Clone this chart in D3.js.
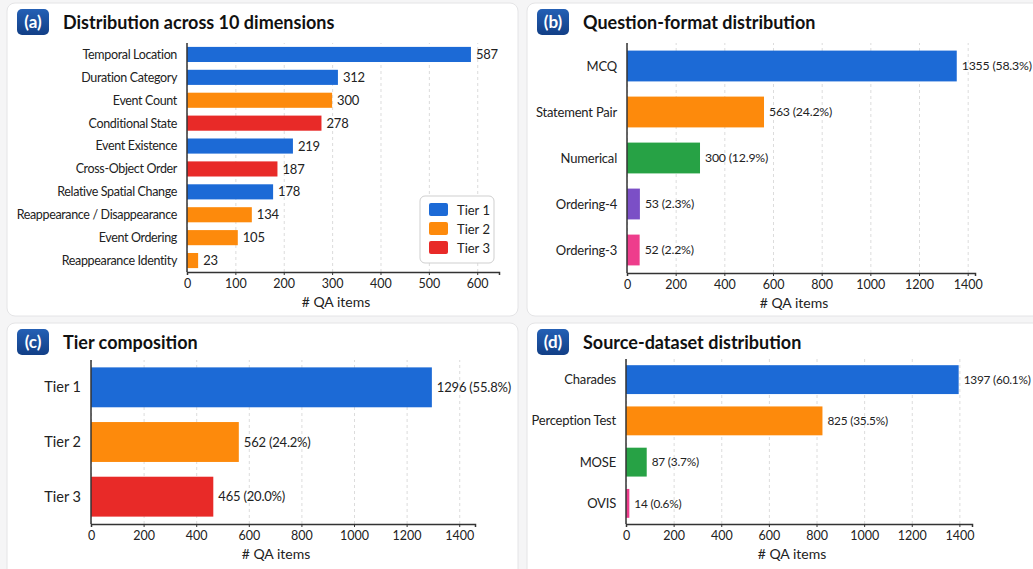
<!DOCTYPE html>
<html>
<head>
<meta charset="utf-8">
<script src="https://cdn.jsdelivr.net/npm/d3@7"></script>
<style>
  body { margin: 0; background: #f5f5f6; font-family: Lato, "Open Sans", sans-serif; }
  .grid line { stroke: #dcdcdc; stroke-dasharray: 3,3; }
  .grid path { display: none; }
  .lbl { fill: #222; }
  .tick text { font-size: 12.5px; fill: #222; font-family: Lato, sans-serif; }
</style>
</head>
<body>
<svg id="chart" width="1033" height="569"></svg>
<script>
// ---- data ----
var dimLabels = ["Temporal Location", "Duration Category", "Event Count", "Conditional State",
  "Event Existence", "Cross-Object Order", "Relative Spatial Change",
  "Reappearance / Disappearance", "Event Ordering", "Reappearance Identity"];
var dimValues = [587, 312, 300, 278, 219, 187, 178, 134, 105, 23];
var dimTiers = [1, 1, 2, 3, 1, 3, 1, 2, 2, 2];

var formatLabels = ["MCQ", "Statement Pair", "Numerical", "Ordering-4", "Ordering-3"];
var formatValues = [1355, 563, 300, 53, 52];
var formatPct = ["58.3%", "24.2%", "12.9%", "2.3%", "2.2%"];

var tierLabels = ["Tier 1", "Tier 2", "Tier 3"];
var tierValues = [1296, 562, 465];
var tierPct = ["55.8%", "24.2%", "20.0%"];

var sourceLabels = ["Charades", "Perception Test", "MOSE", "OVIS"];
var sourceValues = [1397, 825, 87, 14];
var sourcePct = ["60.1%", "35.5%", "3.7%", "0.6%"];

var blue = "#1c6ad6", orange = "#fd8a0c", red = "#e82a28", green = "#27a245",
    purple = "#7b4fc6", pink = "#ee3d8c";
var tierColour = {1: blue, 2: orange, 3: red};

var svg = d3.select("#chart");

// cards
var cards = [
  {x: 7, y: 3, w: 511, h: 313, tag: "(a)", title: "Distribution across 10 dimensions"},
  {x: 527, y: 3, w: 520, h: 313, tag: "(b)", title: "Question-format distribution"},
  {x: 7, y: 323, w: 511, h: 260, tag: "(c)", title: "Tier composition"},
  {x: 527, y: 323, w: 520, h: 260, tag: "(d)", title: "Source-dataset distribution"}
];

var grad = svg.append("defs").append("linearGradient")
    .attr("id", "badge").attr("x1", 0).attr("y1", 0).attr("x2", 0).attr("y2", 1);
grad.append("stop").attr("offset", "0%").attr("stop-color", "#2460b5");
grad.append("stop").attr("offset", "100%").attr("stop-color", "#123f86");

cards.forEach(function(c) {
  svg.append("rect")
    .attr("x", c.x).attr("y", c.y).attr("width", c.w).attr("height", c.h)
    .attr("rx", 8).attr("fill", "#fff").attr("stroke", "#e4e4e6");
  svg.append("rect")
    .attr("x", c.x + 10).attr("y", c.y + 6).attr("width", 32).attr("height", 26)
    .attr("rx", 5).attr("fill", "url(#badge)");
  svg.append("text")
    .attr("x", c.x + 26).attr("y", c.y + 25)
    .attr("text-anchor", "middle")
    .attr("fill", "#fff").attr("font-weight", "bold").attr("font-size", 17)
    .text(c.tag);
  svg.append("text")
    .attr("x", c.x + 56).attr("y", c.y + 26)
    .attr("fill", "#111").attr("font-weight", "bold").attr("font-size", 18)
    .text(c.title);
});

function drawPanel(p) {
  var x = d3.scaleLinear().domain([0, p.xMax]).range([p.left, p.right]);
  var y = d3.scaleBand().domain(p.labels).range([p.top, p.bottom])
      .paddingInner(p.pad).paddingOuter(p.pad / 2);
  var g = svg.append("g");

  g.append("g")
    .attr("class", "grid")
    .attr("transform", "translate(0," + p.bottom + ")")
    .call(d3.axisBottom(x).tickValues(p.ticks).tickSize(-(p.bottom - p.top)).tickFormat(""));

  g.selectAll(".bar")
    .data(p.values)
    .enter().append("rect")
      .attr("x", x(0))
      .attr("y", function(d, i) { return y(p.labels[i]); })
      .attr("width", function(d) { return x(d) - x(0); })
      .attr("height", y.bandwidth())
      .attr("fill", function(d, i) { return p.colours[i]; });

  g.selectAll(".val")
    .data(p.values)
    .enter().append("text")
      .attr("class", "lbl")
      .attr("x", function(d) { return x(d) + 5; })
      .attr("y", function(d, i) { return y(p.labels[i]) + y.bandwidth() / 2; })
      .attr("dy", "0.35em")
      .attr("font-size", p.valSize)
      .attr("letter-spacing", -0.2)
      .text(function(d, i) { return p.pct ? d + " (" + p.pct[i] + ")" : d; });

  g.selectAll(".cat")
    .data(p.labels)
    .enter().append("text")
      .attr("class", "lbl")
      .attr("x", x(0) - 10)
      .attr("y", function(d) { return y(d) + y.bandwidth() / 2; })
      .attr("dy", "0.35em")
      .attr("text-anchor", "end")
      .attr("font-size", p.catSize)
      .attr("letter-spacing", p.catSpace)
      .text(function(d) { return d; });

  var ax = g.append("g")
    .attr("transform", "translate(0," + p.bottom + ")")
    .call(d3.axisBottom(x).tickValues(p.ticks).tickSize(3).tickPadding(4).tickFormat(d3.format("d")));
  ax.select(".domain").attr("stroke", "#333").attr("stroke-width", 1.5);
  ax.selectAll(".tick line").attr("stroke", "#333");

  g.append("line")
    .attr("x1", x(0)).attr("x2", x(0))
    .attr("y1", p.top).attr("y2", p.bottom)
    .attr("stroke", "#333").attr("stroke-width", 1.5);

  g.append("text")
    .attr("x", (p.left + p.right) / 2 - 7)
    .attr("y", p.bottom + 35)
    .attr("text-anchor", "middle")
    .attr("font-size", 14).attr("fill", "#222")
    .text("# QA items");
}

drawPanel({
  labels: dimLabels, values: dimValues,
  colours: dimTiers.map(function(t) { return tierColour[t]; }),
  xMax: 645, ticks: [0, 100, 200, 300, 400, 500, 600],
  left: 187, right: 499, top: 43, bottom: 272, pad: 0.34,
  catSize: 12.5, catSpace: -0.35, valSize: 13
});
drawPanel({
  labels: formatLabels, values: formatValues, pct: formatPct,
  colours: [blue, orange, green, purple, pink],
  xMax: 1430, ticks: [0, 200, 400, 600, 800, 1000, 1200, 1400],
  left: 627, right: 975, top: 43, bottom: 273, pad: 0.33,
  catSize: 13, catSpace: -0.2, valSize: 12.3
});
drawPanel({
  labels: tierLabels, values: tierValues, pct: tierPct,
  colours: [blue, orange, red],
  xMax: 1460, ticks: [0, 200, 400, 600, 800, 1000, 1200, 1400],
  left: 91, right: 475, top: 360, bottom: 524, pad: 0.27,
  catSize: 14.5, catSpace: 0, valSize: 13
});
drawPanel({
  labels: sourceLabels, values: sourceValues, pct: sourcePct,
  colours: [blue, orange, green, pink],
  xMax: 1453, ticks: [0, 200, 400, 600, 800, 1000, 1200, 1400],
  left: 626, right: 972, top: 359, bottom: 524, pad: 0.3,
  catSize: 13, catSpace: -0.2, valSize: 11.8
});

// legend for panel (a)
var legend = svg.append("g");
legend.append("rect")
  .attr("x", 420).attr("y", 196).attr("width", 74).attr("height", 67)
  .attr("rx", 5).attr("fill", "#fff").attr("stroke", "#cfcfcf");
tierLabels.forEach(function(t, i) {
  legend.append("rect")
    .attr("x", 429).attr("y", 203 + i * 19).attr("width", 19).attr("height", 13)
    .attr("rx", 2).attr("fill", tierColour[i + 1]);
  legend.append("text")
    .attr("class", "lbl")
    .attr("x", 457).attr("y", 210 + i * 19).attr("dy", "0.35em")
    .attr("font-size", 13)
    .text(t);
});
</script>
</body>
</html>
